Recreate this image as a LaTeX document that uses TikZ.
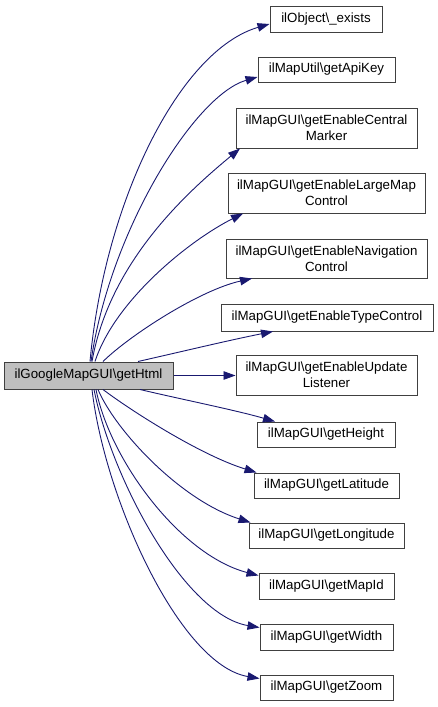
\documentclass[tikz,border=0pt]{standalone}
\usepackage{fontspec}
\setmainfont{Liberation Sans}
\usetikzlibrary{arrows.meta}
\definecolor{edgecol}{HTML}{191970}
\definecolor{boxline}{HTML}{404040}
\definecolor{boxfill}{HTML}{BFBFBF}
\begin{document}
\begin{tikzpicture}[x=1pt,y=-1pt,
  box/.style={draw=boxline,line width=1pt,inner sep=0pt,align=center,font=\fontsize{13.3}{16}\selectfont},
  e/.style={draw=edgecol,line width=0.9pt,-{Triangle[length=12pt,width=8.5pt]}}]
\useasboundingbox (0,0) rectangle (437,707);
\node[box,minimum width=169pt,minimum height=27pt,fill=boxfill] (h) at (88.5,375.5) {ilGoogleMapGUI\textbackslash getHtml};
\node[box,minimum width=112pt,minimum height=26pt] (o1) at (326,19) {ilObject\textbackslash\_exists};
\node[box,minimum width=137pt,minimum height=25pt] (a2) at (326.5,69.5) {ilMapUtil\textbackslash getApiKey};
\node[box,minimum width=181pt,minimum height=40pt] (a3) at (326.5,128) {ilMapGUI\textbackslash getEnableCentral\\Marker};
\node[box,minimum width=197pt,minimum height=40pt] (a4) at (326.5,193) {ilMapGUI\textbackslash getEnableLargeMap\\Control};
\node[box,minimum width=201pt,minimum height=39pt] (a5) at (326.5,258.5) {ilMapGUI\textbackslash getEnableNavigation\\Control};
\node[box,minimum width=212pt,minimum height=27pt] (a6) at (327,317.5) {ilMapGUI\textbackslash getEnableTypeControl};
\node[box,minimum width=181pt,minimum height=40pt] (a7) at (326.5,375) {ilMapGUI\textbackslash getEnableUpdate\\Listener};
\node[box,minimum width=138pt,minimum height=25pt] (a8) at (326,434.5) {ilMapGUI\textbackslash getHeight};
\node[box,minimum width=145pt,minimum height=25pt] (a9) at (326.5,485.5) {ilMapGUI\textbackslash getLatitude};
\node[box,minimum width=155pt,minimum height=25pt] (a10) at (326.5,535.5) {ilMapGUI\textbackslash getLongitude};
\node[box,minimum width=135pt,minimum height=26pt] (a11) at (326.5,586) {ilMapGUI\textbackslash getMapId};
\node[box,minimum width=133pt,minimum height=26pt] (a12) at (326.5,637) {ilMapGUI\textbackslash getWidth};
\node[box,minimum width=133pt,minimum height=25pt] (a13) at (326.5,687.5) {ilMapGUI\textbackslash getZoom};

\draw[e] ([xshift=1.5pt]h.north) .. controls (105,200) and (180,50) .. ([yshift=-5pt]o1.west);
\draw[e] ([xshift=2.5pt]h.north) .. controls (110,230) and (195,95) .. ([yshift=-7.5pt]a2.west);
\draw[e] ([xshift=3.5pt]h.north) .. controls (110,260) and (190,190) .. ([xshift=-86.5pt]a3.south);
\draw[e] ([xshift=6.5pt]h.north) .. controls (115,300) and (190,240) .. ([xshift=-83.5pt]a4.south);
\draw[e] ([xshift=14.5pt]h.north) .. controls (130,335) and (200,290) .. ([xshift=-74.5pt]a5.south);
\draw[e] ([xshift=49.5pt]h.north) .. controls (180,352) and (230,340) .. ([xshift=-54pt]a6.south);
\draw[e] (h.east) -- (h.east -| a7.west);
\draw[e] ([xshift=51.5pt]h.south) .. controls (180,399) and (235,410) .. ([xshift=-51pt]a8.north);
\draw[e] ([xshift=14.5pt]h.south) .. controls (130,410) and (200,455) .. ([xshift=3pt]a9.north west);
\draw[e] ([xshift=9.5pt]h.south) .. controls (115,430) and (180,500) .. ([xshift=2pt]a10.north west);
\draw[e] ([xshift=7.5pt]h.south) .. controls (110,460) and (180,555) .. ([yshift=-3pt]a11.north west);
\draw[e] ([xshift=5.5pt]h.south) .. controls (112,480) and (185,615) .. ([yshift=-4pt]a12.north west);
\draw[e] ([xshift=3.5pt]h.south) .. controls (105,500) and (180,665) .. ([yshift=-4pt]a13.north west);
\end{tikzpicture}
\end{document}
